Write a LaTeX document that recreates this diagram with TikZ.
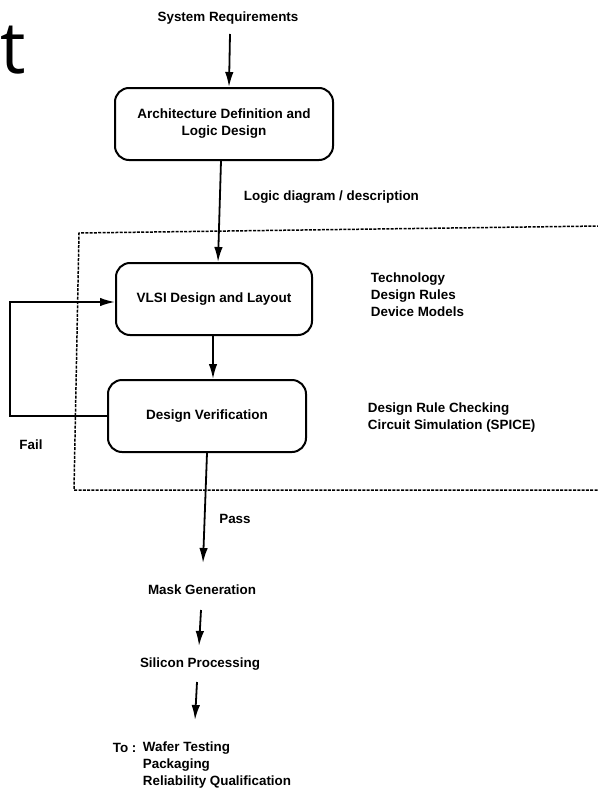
\documentclass[tikz,border=0pt]{standalone}
\usepackage{fontspec}
\setmainfont{Liberation Sans}
\newfontfamily\bigfont{Open Sans}
\usetikzlibrary{arrows.meta}
\begin{document}
\begin{tikzpicture}[x=1pt,y=-1pt,
  lbl/.style={font=\bfseries\fontsize{13.4}{17}\selectfont, inner sep=0pt},
  proc/.style={draw, line width=2pt, rounded corners=14pt, font=\bfseries\fontsize{13.5}{17}\selectfont, align=center},
  flow/.style={line width=1.8pt, -{Latex[length=15pt,width=8.5pt]}},
  line width=1.8pt]
\useasboundingbox (0,0) rectangle (597,792);
\node[font=\bigfont\fontsize{72}{72}\selectfont, anchor=west, inner sep=0pt] (t) at (0,50) {t};
\node[lbl] (sys) at (228,18) {System Requirements};
\node[proc, minimum width=218pt, minimum height=72pt] (arch) at (224,124) {Architecture Definition and\\Logic Design};
\draw[dash pattern=on 3pt off 1.3pt, line width=1.5pt] (600,226) -- (79,233) -- (74,490) -- (600,490);
\node[proc, minimum width=196pt, minimum height=72pt] (vlsi) at (214,299) {VLSI Design and Layout};
\node[proc, minimum width=198pt, minimum height=72pt] (ver) at (207,416) {Design Verification};
\node[lbl, anchor=west] (dl) at (243,197) {Logic diagram / description};
\node[lbl, anchor=north west, align=left] (tech) at (370,272) {Technology\\Design Rules\\Device Models};
\node[lbl, anchor=north west, align=left] (drc) at (367,402) {Design Rule Checking\\Circuit Simulation (SPICE)};
\node[lbl] (fail) at (31,445) {Fail};
\node[lbl] (pass) at (235,519) {Pass};
\node[lbl] (mask) at (202,590) {Mask Generation};
\node[lbl] (si) at (200,664) {Silicon Processing};
\node[lbl, anchor=west] (to) at (112,748) {To :};
\node[lbl, anchor=north west, align=left] (list) at (142,741) {Wafer Testing\\Packaging\\Reliability Qualification};
\coordinate (sysb) at (230,34);
\draw[flow] (sysb) -- (arch.north -| 229,0);
\draw[flow] (arch.south -| 221,0) -- (vlsi.north -| 218,0);
\draw[flow] (vlsi.south -| 213,0) -- (ver.north -| 213,0);
\draw[flow] (ver.west) -- (10,416) -- (10,302) -- (vlsi.west |- 0,302);
\draw[flow] (ver.south) -- (203,563);
\draw[flow] (201,610) -- (199,646);
\draw[flow] (197,682) -- (195,720);
\end{tikzpicture}
\end{document}
